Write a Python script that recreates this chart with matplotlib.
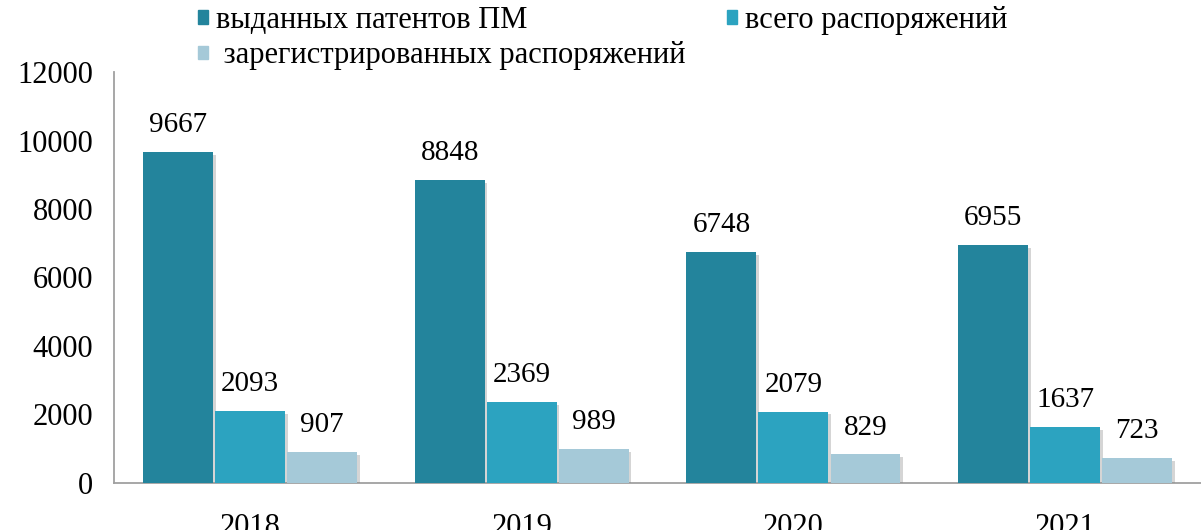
import matplotlib as mpl
mpl.use('Agg')
import matplotlib.pyplot as plt
import matplotlib.patheffects as pe
from matplotlib.patches import Patch
import numpy as np

# данные
years = ['2018', '2019', '2020', '2021']
patents = [9667, 8848, 6748, 6955]
orders_total = [2093, 2369, 2079, 1637]
orders_reg = [907, 989, 829, 723]

names = ['выданных патентов ПМ', 'всего распоряжений', ' зарегистрированных распоряжений']
colors = ['#23849c', '#2ca3c0', '#a5c9d8']

plt.rcParams['font.family'] = ['Liberation Serif', 'DejaVu Serif']

fig = plt.figure(figsize=(12.01, 5.30), dpi=100)
ax = fig.add_axes([0.095, 0.089, 0.905, 0.775])

x = np.arange(len(years))
w = 0.257
step = 0.265
shadow = [pe.withSimplePatchShadow(offset=(2, -2), shadow_rgbFace='#888888', alpha=0.35)]

for i, (vals, c) in enumerate(zip([patents, orders_total, orders_reg], colors)):
    b = ax.bar(x + (i - 1) * step, vals, width=w, color=c, label=names[i],
               path_effects=shadow, zorder=3)
    ax.bar_label(b, labels=[str(v) for v in vals], padding=10, fontsize=21)

ax.set_xlim(-0.5, 3.5)
ax.set_ylim(0, 12000)
ax.set_yticks(range(0, 12001, 2000))
ax.set_xticks(x)
ax.set_xticklabels(years)
ax.tick_params(axis='both', length=0, labelsize=22)
ax.tick_params(axis='y', pad=15)
ax.tick_params(axis='x', pad=22)
for s in ['top', 'right']:
    ax.spines[s].set_visible(False)
for s in ['left', 'bottom']:
    ax.spines[s].set_color('#a0a0a0')
    ax.spines[s].set_linewidth(1.3)

# порядок: строка 1 — a, b; строка 2 — c
order = [0, 2, 1]
handles = [Patch(color=colors[k]) for k in order]
labels = [names[k] for k in order]
fig.legend(handles, labels, ncol=2, loc='upper left', bbox_to_anchor=(0.142, 1.04),
           frameon=False, fontsize=22, handlelength=0.32, handleheight=0.32,
           handletextpad=0.26, columnspacing=1.38, labelspacing=0.2)

fig.savefig('out.png', dpi=100)
